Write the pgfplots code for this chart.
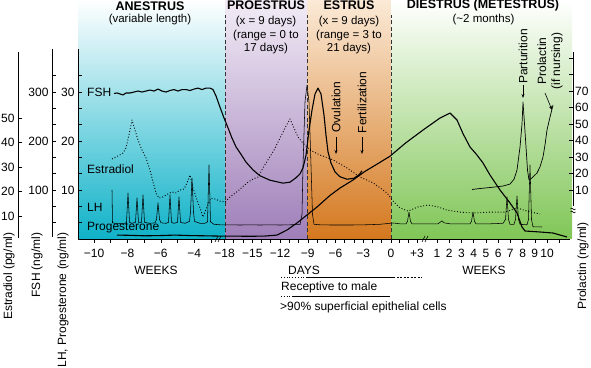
\documentclass[border=0pt]{standalone}
\usepackage{fontspec}
\setmainfont{Liberation Sans}
\usepackage{pgfplots}
\pgfplotsset{compat=1.18}
\usetikzlibrary{arrows.meta}
\definecolor{anB}{RGB}{15,178,200}
\definecolor{prT}{RGB}{242,236,246}
\definecolor{prM}{RGB}{205,188,220}
\definecolor{prB}{RGB}{158,126,184}
\definecolor{esT}{RGB}{251,234,215}
\definecolor{esM}{RGB}{238,180,120}
\definecolor{esB}{RGB}{212,120,30}
\definecolor{diM}{RGB}{190,226,160}
\definecolor{diB}{RGB}{128,198,86}
\pgfplotsset{
  base/.style={scale only axis, width=495pt, height=239pt, at={(78pt,128pt)}, anchor=south west,
    xmin=78, xmax=573, axis line style={draw=none}, xtick=\empty, ytick=\empty,
    tick style={black, line width=0.6pt}, major tick length=4pt, minor tick length=4pt,
    tick label style={font=\fontsize{12}{14}\selectfont}},
  narrow/.style={scale only axis, width=10pt, height=239pt, anchor=south west,
    xmin=0, xmax=1, axis line style={draw=none}, xtick=\empty,
    ytick pos=left, tick align=inside,
    tick style={black, line width=0.6pt}, major tick length=4pt, minor tick length=4pt,
    tick label style={font=\fontsize{12}{14}\selectfont}},
}
\begin{document}
\begin{tikzpicture}[x=1pt,y=1pt,font=\fontsize{12}{14}\selectfont]
\path[use as bounding box] (0,0) rectangle (591,367);
% ---------- axis 1: backgrounds, x ticks, LH and progesterone (ng/ml)
\begin{axis}[base, ymin=0, ymax=48.78,
  xtick={94,127.4,160.8,194.2,224.5,252.3,280,307.8,335.5,363.3,391,417,437,449.2,461.4,473.7,485.9,498.1,510.3,522.6,534.8,547},
  xticklabels={−10,−8,−6,−4,−18,−15,−12,−9,−6,−3,0,+3,1,2,3,4,5,6,7,8,9,10},
  minor xtick={110.7,144.1,177.5,210.9,233.75,243,261.5,270.75,289.25,298.5,317,326.25,344.75,354,372.5,381.75,399.7,408.3,559.2},
  xtick pos=left, tick align=outside, xticklabel style={inner sep=2pt, yshift=-4pt}]
  \fill[top color=white, middle color=anB!58, bottom color=anB] (78,0) rectangle (225,48.78);
  \fill[top color=prT, middle color=prM, bottom color=prB] (225,0) rectangle (307,48.78);
  \fill[top color=esT, middle color=esM, bottom color=esB] (307,0) rectangle (391,48.78);
  \fill[top color=white, middle color=diM, bottom color=diB] (391,0) rectangle (572,48.78);
  \foreach \xx in {225,307,391}{
    \edef\tmp{\noexpand\draw[black!80, line width=0.65pt, dash pattern=on 4pt off 2.5pt] (\xx,0) -- (\xx,45.7);}\tmp}
  % LH
  \addplot[black, line width=0.55pt, line join=round] coordinates {
    (112,10.0) (112.5,3.3) (115,3.2) (120,3.2) (125,3.2) (126.5,3.4) (128,9.4) (129.5,3.4) (132,3.2)
    (135.5,3.4) (137,8.4) (138.5,3.4) (141.5,3.4) (143,9.0) (144.5,3.4) (150,3.2) (155,3.3) (156.5,4.0)
    (158,7.4) (159.5,4.0) (161,3.3) (166,3.2) (168.5,3.4) (170,9.0) (171.5,3.4) (174,3.2) (177.5,3.4)
    (179,8.6) (180.5,3.4) (185,3.2) (189.5,3.6) (190.5,5.5) (192,12.4) (193.5,5.5) (194.5,3.6) (200,3.2)
    (205,3.2) (207.5,3.5) (209,15.1) (210.5,3.5) (214,3.0) (220,2.9)
    (230,2.9) (240,2.85) (250,2.9) (260,2.85) (270,2.9) (280,2.85) (290,2.9) (300,2.95) (302,5) (303,15)
    (305,28) (307,31.4) (309,28) (311,15) (312.5,5) (314,3.0) (320,2.9) (330,2.86) (340,2.86) (353,2.86)
    (365,2.9) (380,3.0) (393,3.27)
    (400,3.1) (406,3.1) (407.5,3.6) (409,5.5) (410.5,3.6) (412,3.1) (425,3.1) (438,3.1) (440,3.4) (442,3.7)
    (444,3.3) (450,3.1) (460,3.1) (470,3.1) (471.5,3.6) (473,5.5) (474.5,3.6) (476,3.1) (490,3.1) (503,3.2)
    (505.5,4) (507,8.6) (508.5,4) (510,3.0) (514,3.0) (515.5,4) (517,8.8) (518.5,4) (520,3.0) (527,2.9)
    (528.5,4) (530,15.1) (531.5,4) (533,2.5) (542,2.45)};
  % Progesterone
  \addplot[black, line width=1.1pt, line join=round] coordinates {
    (117,0.8) (130,0.75) (145,0.65) (160,0.7) (175,0.8) (190,0.7) (205,0.65) (218,0.6) (230,0.6) (250,0.55)
    (265,0.6) (277,0.8) (287,1.84) (297,3.27) (307,4.9) (317,6.53) (330,8.9) (340,10.4) (353,12.04) (365,13.8)
    (378,15.4) (390,16.9) (405,19.5) (423,22.24) (440,24.69) (450,25.71) (457,24.29) (463,21.5) (470,18.78)
    (477,17.14) (483,15.51) (490,13.06) (500,10.0) (510,7.35) (517,5.31) (522,2.45) (525,1.63) (540,1.43)
    (553,1.22) (567,0.41)};
\end{axis}
% ---------- axis 2: LH/progesterone scale ticks
\begin{axis}[base, ymin=0, ymax=48.78, ytick={10,20,30}, yticklabels={10,20,30},
  minor ytick={3.333,6.667,13.333,16.667,23.333,26.667,33.333}, ytick pos=left, tick align=inside]
\end{axis}
% ---------- axis 3: FSH (ng/ml)
\begin{axis}[base, ymin=0, ymax=487.8]
  \addplot[black, line width=1.1pt, line join=round] coordinates {
    (114,297) (117,298) (120,296) (123,294) (126,298) (130,298) (134,300) (138,302) (142,300) (146,302)
    (150,304) (154,302) (158,306) (162,302) (166,300) (170,303) (174,305) (178,302) (182,305) (186,305)
    (190,303) (194,306) (198,308) (202,305) (206,308) (210,308) (213,305) (216,292) (220,269) (224,247)
    (228,227) (232,206) (236,188) (240,176) (246,157) (253,141) (260,129) (270,120) (283,114) (290,116)
    (296,125) (300,133) (303,145) (306,171) (309,222) (312,263) (315,296) (318,308) (321,296) (324,253)
    (326,212) (328,178) (331,155) (335,137) (340,127) (347,122) (354,124) (359,131) (362,139)};
\end{axis}
% ---------- axis 4: Estradiol (pg/ml)
\begin{axis}[base, ymin=0.61, ymax=98.16]
  \addplot[black, line width=0.9pt, dotted, line join=round] coordinates {
    (112,33.3) (118,34.5) (123,35.7) (126,37.8) (129,43.1) (132,49.2) (135,45.1) (138,41.0) (142,36.9)
    (146,33.7) (150,28.8) (153,23.9) (156,19.4) (159,17.3) (163,17.8) (168,19.0) (172,19.8) (176,19.4)
    (180,20.6) (184,21.0) (187,23.5) (190,26.7) (193,21.4) (197,16.5) (200,13.3) (203,9.6) (207,13.7)
    (211,17.3) (215,16.9) (220,16.1) (225,15.7) (230,17.8) (238,20.2) (247,23.5) (253,25.1) (258,25.9)
    (263,29.6) (268,32.9) (274,36.9) (280,41.8) (285,45.9) (290,49.6) (294,45.9) (298,42.2) (302,40.2)
    (310,36.9) (320,34.9) (333,32.9) (347,29.6) (360,25.9) (373,23.5) (380,21.5) (387,19.4) (393,16.1)
    (400,13.3) (408,12.0) (418,13.7) (428,14.5) (438,13.7) (447,12.4) (460,11.6) (473,11.2) (490,11.6)
    (505,11.6) (517,13.3) (527,12.0) (540,10.8)};
\end{axis}
% ---------- axis 5: Prolactin (ng/ml), right scale
\begin{axis}[base, ymin=-19.70, ymax=125.15, ytick={10,20,30,40,50,60,70,80,90},
  yticklabels={10,20,30,40,50,60,70,,}, ytick pos=right, tick align=inside,
  yticklabel style={inner sep=2pt}]
  \addplot[black, line width=0.7pt, line join=round] coordinates {
    (472,10.3) (480,10.9) (490,11.5) (503,12.4) (510,13.6) (514,16.5) (517,22.1) (520,36) (522,50)
    (523,63.3) (524.5,50) (526,36.1) (527.5,22) (529,16.1) (532,17.3) (537,20.3) (540,24) (543,30.0)
    (545,37.3) (547,46.4) (550,54.2) (553,61.5)};
\end{axis}
% ---------- axis 6: FSH scale
\begin{axis}[narrow, at={(52pt,128pt)}, ymin=0, ymax=487.8, ytick={100,200,300}, yticklabels={100,200,300},
  minor ytick={33.33,66.67,133.33,166.67,233.33,266.67,333.33}]
\end{axis}
% ---------- axis 7: Estradiol scale
\begin{axis}[narrow, at={(18pt,128pt)}, ymin=0.61, ymax=98.16, ytick={10,20,30,40,50}, yticklabels={10,20,30,40,50}]
\end{axis}
% ---------- axis lines
\draw[line width=0.7pt] (78,128) -- (570,128);
\draw[line width=0.7pt] (78,128) -- (78,318);
\draw[line width=0.7pt] (52,130) -- (52,318);
\draw[line width=0.7pt] (18,129) -- (18,315);
\draw[line width=0.7pt] (573,315) -- (573,161);
\draw[line width=0.6pt] (570.5,158) .. controls (572,161) and (574,155) .. (575.5,158);
\draw[line width=0.6pt] (570.5,155) .. controls (572,158) and (574,152) .. (575.5,155);
\foreach \bx in {218,425}{
  \draw[line width=0.6pt] (\bx-3,125) -- (\bx,131);
  \draw[line width=0.6pt] (\bx,125) -- (\bx+3,131);}
% ---------- headers
\node[font=\fontsize{12.5}{14}\selectfont\bfseries] at (150,361) {ANESTRUS};
\node[font=\fontsize{11.5}{13}\selectfont] at (150,347.5) {(variable length)};
\node[font=\fontsize{12.5}{14}\selectfont\bfseries] at (266,361.5) {PROESTRUS};
\node[font=\fontsize{11.5}{13.5}\selectfont, align=center, anchor=north] at (266,354) {(x = 9 days)\\(range = 0 to\\17 days)};
\node[font=\fontsize{12.5}{14}\selectfont\bfseries] at (349,361.5) {ESTRUS};
\node[font=\fontsize{11.5}{13.5}\selectfont, align=center, anchor=north] at (349,354) {(x = 9 days)\\(range = 3 to\\21 days)};
\node[font=\fontsize{12.5}{14}\selectfont\bfseries] at (483,361.5) {DIESTRUS (METESTRUS)};
\node[font=\fontsize{11.5}{13}\selectfont] at (483.5,347.5) {(\textasciitilde 2 months)};
% ---------- curve labels
\node[anchor=west, inner sep=0pt] at (87,275) {FSH};
\node[anchor=west, inner sep=0pt] at (87,198) {Estradiol};
\node[anchor=west, inner sep=0pt] at (87,160) {LH};
\node[anchor=west, inner sep=0pt] at (87,139) {Progesterone};
% ---------- event annotations
\node[rotate=90, inner sep=0pt] at (336,260) {Ovulation};
\draw[-{Stealth[length=4pt,width=3pt]}, line width=0.6pt] (336,230) -- (336,213);
\node[rotate=90, inner sep=0pt] at (362,264.5) {Fertilization};
\draw[-{Stealth[length=4pt,width=3pt]}, line width=0.6pt] (362,230) -- (362,213);
\node[rotate=90, inner sep=0pt] at (523,310.5) {Parturition};
\draw[-{Stealth[length=4pt,width=3pt]}, line width=0.6pt] (523,282) -- (523,269);
\node[rotate=90, inner sep=0pt, align=center] at (550,306) {Prolactin\\(if nursing)};
\draw[-{Stealth[length=4pt,width=3pt]}, line width=0.6pt] (545,274) -- (552,257);
% ---------- bottom labels
\node at (156,97) {WEEKS};
\node at (304,97) {DAYS};
\node at (484,97) {WEEKS};
\draw[line width=0.8pt, dotted] (281,90) -- (307,90);
\draw[line width=0.8pt] (307,90) -- (393,90);
\draw[line width=0.8pt, dash pattern=on 2pt off 1.5pt] (393,90) -- (422,90);
\node[anchor=west, inner sep=0pt] at (281,79.5) {Receptive to male};
\draw[line width=0.8pt, dotted] (281,71) -- (293,71);
\draw[line width=0.8pt] (293,71) -- (390,71);
\node[anchor=west, inner sep=0pt] at (280,59.5) {>90\% superficial epithelial cells};
% ---------- axis titles
\node[rotate=90] at (9,91) {Estradiol (pg/ml)};
\node[rotate=90] at (37,102) {FSH (ng/ml)};
\node[rotate=90] at (63,67) {LH, Progesterone (ng/ml)};
\node[rotate=90] at (583,101) {Prolactin (ng/ml)};
\end{tikzpicture}
\end{document}
